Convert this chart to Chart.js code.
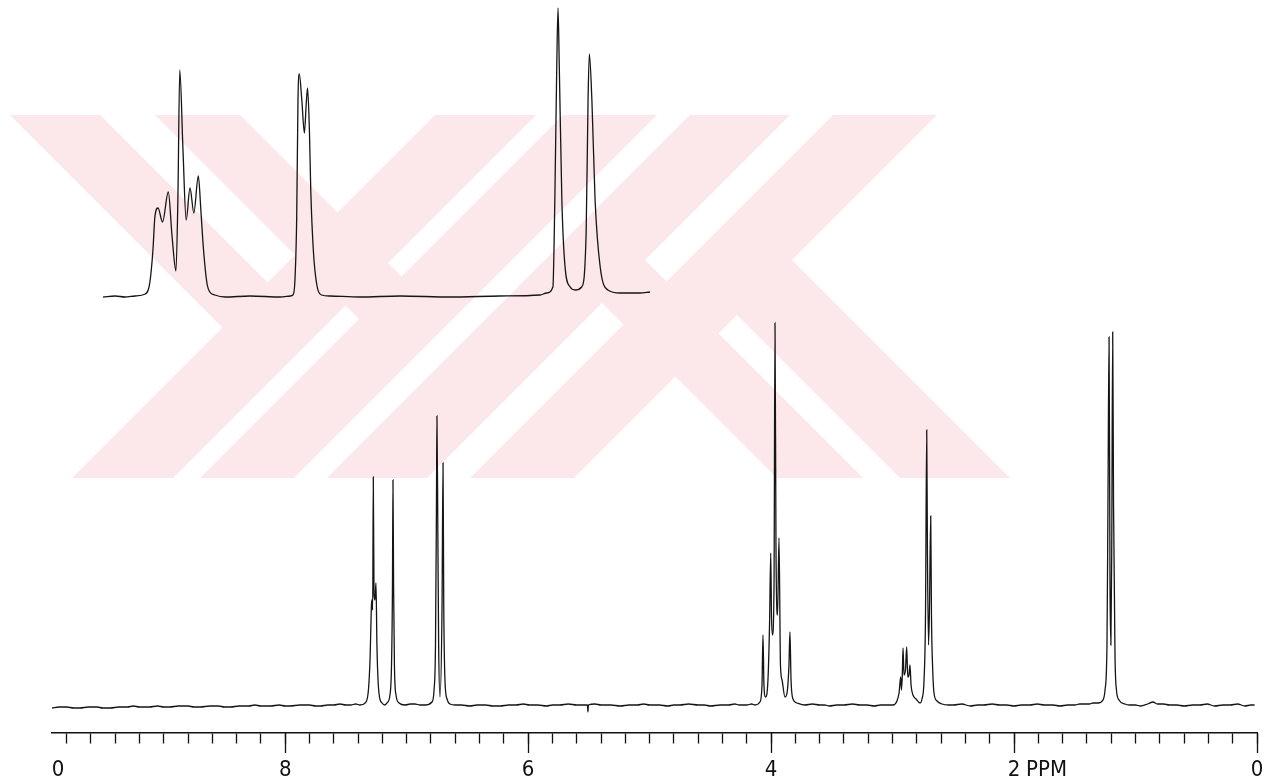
<!DOCTYPE html>
<html>
<head>
<meta charset="utf-8">
<title>1H NMR spectrum</title>
<script src="https://cdn.jsdelivr.net/npm/chart.js"></script>
<style>
  body { margin: 0; background: #fff; }
  #wrap { width: 1275px; height: 779px; }
</style>
</head>
<body>
<div id="wrap"><canvas id="nmrChart" width="1275" height="779"></canvas></div>

<script>
// full spectrum, [ppm, signal height above baseline]
const baseLeft = [
  [9.92, -3], [9.86, -2], [9.80, -2], [9.74, -3], [9.69, -3], [9.62, -2], [9.55, -2], [9.50, -3],
  [9.44, -3], [9.37, -2], [9.30, -2], [9.25, -1], [9.20, -2], [9.12, -2], [9.05, -1], [9.00, -2],
  [8.95, -2], [8.88, -1], [8.80, -1], [8.75, -2], [8.70, -2], [8.62, -1], [8.55, -1], [8.50, -2],
  [8.45, -2], [8.38, -1], [8.30, -1], [8.25, 0], [8.20, -1], [8.12, -1], [8.05, 0], [8.00, -1],
  [7.96, -1], [7.88, 0], [7.80, 0], [7.75, -1], [7.71, -1], [7.65, 0], [7.60, 0], [7.55, 1],
  [7.50, 0], [7.46, 0], [7.42, 1]
];
const aromatic = [
  [7.385, 0], [7.335, 3], [7.315, 15], [7.302, 45], [7.290, 100], [7.286, 105], [7.280, 95],
  [7.275, 228], [7.269, 110], [7.261, 105], [7.253, 122], [7.245, 60], [7.236, 25], [7.224, 8],
  [7.203, 2], [7.179, 0],
  [7.162, 2], [7.138, 10], [7.125, 40], [7.117, 120], [7.113, 225], [7.108, 120], [7.101, 40],
  [7.088, 10], [7.063, 2], [7.014, 0], [6.970, 1], [6.932, 1], [6.890, 0], [6.849, 0],
  [6.792, 3], [6.775, 15], [6.763, 60], [6.755, 200], [6.751, 289], [6.744, 180], [6.737, 60],
  [6.726, 8], [6.709, 100], [6.701, 242], [6.695, 100], [6.685, 25], [6.668, 6], [6.644, 1]
];
const baseMid = [
  [6.60, 0], [6.55, 0], [6.48, -1], [6.42, 0], [6.35, 0], [6.29, -1], [6.23, -1], [6.16, 0],
  [6.10, 0], [6.04, 1], [5.99, 0], [5.92, 0], [5.85, -1], [5.80, 0], [5.74, 0], [5.67, 1],
  [5.60, 0], [5.512, 0], [5.508, -7], [5.504, 0], [5.45, 1], [5.40, 0], [5.32, 0], [5.24, -1],
  [5.17, 0], [5.10, 0], [5.05, 1], [5.00, 0], [4.92, 0], [4.85, -1], [4.80, 0], [4.75, 0],
  [4.68, 1], [4.60, 0], [4.55, 0], [4.50, -1], [4.42, 0], [4.35, 0], [4.30, 1], [4.26, 0],
  [4.20, 0], [4.16, 1]
];
const methoxy = [
  [4.133, 0], [4.092, 3], [4.075, 20], [4.067, 70], [4.059, 20], [4.046, 8], [4.026, 25],
  [4.013, 80], [4.003, 152], [3.997, 90], [3.989, 70], [3.976, 120], [3.968, 382], [3.960, 160],
  [3.947, 90], [3.935, 167], [3.923, 40], [3.910, 25], [3.886, 8], [3.869, 12], [3.853, 40],
  [3.845, 73], [3.836, 25], [3.820, 6], [3.787, 2], [3.721, 0]
];
const baseUpper = [
  [3.66, 1], [3.60, 0], [3.56, 0], [3.52, -1], [3.46, 0], [3.40, 0], [3.33, 1], [3.27, 0],
  [3.21, 0], [3.15, -1], [3.10, 0], [3.05, 0]
];
const ethyl = [
  [2.997, 0], [2.964, 4], [2.947, 12], [2.933, 28], [2.927, 15], [2.920, 30], [2.914, 57],
  [2.906, 30], [2.894, 35], [2.884, 58], [2.875, 28], [2.865, 30], [2.857, 40], [2.848, 20],
  [2.832, 10], [2.807, 6], [2.774, 2], [2.758, 6], [2.741, 25], [2.729, 90], [2.719, 275],
  [2.713, 150], [2.704, 60], [2.696, 100], [2.686, 189], [2.680, 90], [2.671, 40], [2.659, 12],
  [2.634, 4], [2.593, 1]
];
const baseLower = [
  [2.54, 0], [2.50, 0], [2.43, 1], [2.36, -1], [2.30, 0], [2.25, 0], [2.18, 1], [2.12, 0],
  [2.06, 0], [2.00, -1], [1.94, 0], [1.87, 0], [1.81, 1], [1.75, 0], [1.68, 0], [1.62, -1],
  [1.56, 0], [1.50, 0], [1.46, 1], [1.42, 1], [1.38, 1], [1.35, 2]
];
const methyl = [
  [1.309, 2], [1.268, 5], [1.251, 15], [1.235, 60], [1.227, 200], [1.218, 368], [1.210, 120],
  [1.203, 60], [1.196, 150], [1.188, 373], [1.181, 200], [1.169, 50], [1.157, 15], [1.136, 5],
  [1.087, 1]
];
const baseRight = [
  [1.05, 0], [1.00, 0], [0.96, -1], [0.90, 1], [0.856, 3], [0.82, 1], [0.77, 1], [0.72, 0],
  [0.66, 0], [0.60, -1], [0.53, 0], [0.47, 0], [0.41, 1], [0.35, -1], [0.28, 0], [0.22, 0],
  [0.16, 1], [0.10, -1], [0.05, 0], [0.02, 0]
];

// expanded aromatic region drawn above the full trace
const expansion = [
  [7.456, 0], [7.437, 1], [7.422, 0], [7.406, 1], [7.390, 3], [7.383, 14], [7.378, 47],
  [7.375, 80], [7.370, 89], [7.363, 75], [7.354, 105], [7.348, 60], [7.342, 26], [7.339, 97],
  [7.336, 227], [7.331, 147], [7.326, 77], [7.320, 109], [7.314, 84], [7.307, 121], [7.303, 87],
  [7.300, 57], [7.296, 27], [7.293, 12], [7.289, 5], [7.281, 2], [7.265, 0], [7.226, 1],
  [7.179, 0], [7.163, 1], [7.159, 2], [7.156, 14], [7.153, 80], [7.151, 197], [7.149, 223],
  [7.145, 197], [7.141, 164], [7.138, 194], [7.136, 209], [7.133, 164], [7.131, 107],
  [7.127, 47], [7.122, 14], [7.114, 2], [7.101, 1], [7.054, 0], [6.991, 1], [6.913, 0],
  [6.835, 1], [6.772, 2], [6.762, 4], [6.752, 10], [6.749, 97], [6.746, 230], [6.744, 289],
  [6.742, 230], [6.738, 97], [6.733, 30], [6.725, 10], [6.717, 7], [6.707, 10], [6.700, 64],
  [6.697, 197], [6.695, 243], [6.691, 197], [6.686, 97], [6.678, 30], [6.666, 7], [6.647, 4],
  [6.616, 4], [6.600, 5]
];

const majorTicks = [8, 6, 4, 2, 0];
const labelFont = { family: '"Liberation Sans Narrow", "DejaVu Sans Condensed", "Liberation Sans", sans-serif', size: 22 };

const spectrum = [].concat(baseLeft, aromatic, baseMid, methoxy, baseUpper, ethyl, baseLower, methyl, baseRight)
  .map(([x, y]) => ({ x, y }));
const insetTrace = expansion.map(([x, y]) => ({ x, y }));

// pale logo stamped behind the traces
const stampPlugin = {
  id: 'stamp',
  beforeDraw(chart) {
    const ctx = chart.ctx;
    ctx.save();
    ctx.fillStyle = '#fff';
    ctx.fillRect(0, 0, chart.width, chart.height);
    ctx.beginPath();
    ctx.rect(0, 115, chart.width, 363);
    ctx.clip();
    ctx.fillStyle = '#fce7eb';
    const slash = (b0, b1) => [[b0 - 20, 498], [b1 - 20, 498], [b1 + 383, 95], [b0 + 383, 95]];
    const shapes = [
      slash(72, 173), slash(200, 294), slash(327, 427), slash(470, 574),
      [[-10, 95], [80, 95], [292.75, 307.75], [247.75, 352.75]],
      [[135, 95], [220, 95], [425, 300], [382.5, 342.5]],
      [[797, 498], [883, 498], [620, 235], [577, 278]],
      [[920, 498], [1030, 498], [766, 234], [711, 289]]
    ];
    shapes.forEach(pts => {
      ctx.beginPath();
      pts.forEach(([x, y], i) => i ? ctx.lineTo(x, y) : ctx.moveTo(x, y));
      ctx.closePath();
      ctx.fill();
    });
    ctx.restore();
  },
  afterDraw(chart) {
    // unit written next to the "2" label
    const sc = chart.scales.xMajor;
    const ctx = chart.ctx;
    ctx.save();
    ctx.font = `${labelFont.size}px ${labelFont.family}`;
    ctx.fillStyle = '#111';
    ctx.textAlign = 'left';
    ctx.textBaseline = 'middle';
    const y = chart.scales.y.getPixelForValue(-28) + 20 + 4 + labelFont.size * 0.6;
    ctx.fillText('PPM', sc.getPixelForValue(2) + 12, y);
    ctx.restore();
  }
};

const ctx = document.getElementById('nmrChart').getContext('2d');
new Chart(ctx, {
  type: 'line',
  data: {
    datasets: [
      {
        label: 'spectrum',
        data: spectrum,
        xAxisID: 'x',
        yAxisID: 'y',
        borderColor: '#151515',
        borderWidth: 1.3,
        pointRadius: 0,
        cubicInterpolationMode: 'monotone'
      },
      {
        label: 'expansion',
        data: insetTrace,
        xAxisID: 'x2',
        yAxisID: 'y2',
        borderColor: '#151515',
        borderWidth: 1.3,
        pointRadius: 0,
        cubicInterpolationMode: 'monotone'
      }
    ]
  },
  options: {
    responsive: false,
    animation: false,
    events: [],
    layout: { padding: { left: 52, right: 18, top: 0, bottom: 46 } },
    plugins: { legend: { display: false }, tooltip: { enabled: false } },
    scales: {
      x: {
        type: 'linear',
        position: { y: -28 },
        min: 0,
        max: 9.92,
        reverse: true,
        border: { display: true, color: '#111', width: 1.5 },
        grid: { drawOnChartArea: false, tickLength: 10, tickColor: '#111', tickWidth: 1.3 },
        ticks: { stepSize: 0.2, includeBounds: false, autoSkip: false, maxRotation: 0, callback: () => '' }
      },
      xMajor: {
        type: 'linear',
        position: { y: -28 },
        min: 0,
        max: 9.92,
        reverse: true,
        afterBuildTicks: scale => {
          scale.ticks = majorTicks.map(v => ({ value: v })).concat([{ value: 9.87 }]);
        },
        border: { display: false },
        grid: {
          drawOnChartArea: false,
          tickLength: 20,
          tickWidth: 1.3,
          tickColor: c => (c.tick && c.tick.value > 9 ? 'rgba(0,0,0,0)' : '#111')
        },
        ticks: {
          autoSkip: false,
          maxRotation: 0,
          padding: 4,
          color: '#111',
          font: labelFont,
          callback: v => (v > 9 ? '0' : String(v))
        }
      },
      y: { display: false, min: -28, max: 705 },
      x2: { type: 'linear', display: false, min: 5.650, max: 7.536, reverse: true },
      y2: { display: false, min: -436, max: 297 }
    }
  },
  plugins: [stampPlugin]
});
</script>
</body>
</html>
